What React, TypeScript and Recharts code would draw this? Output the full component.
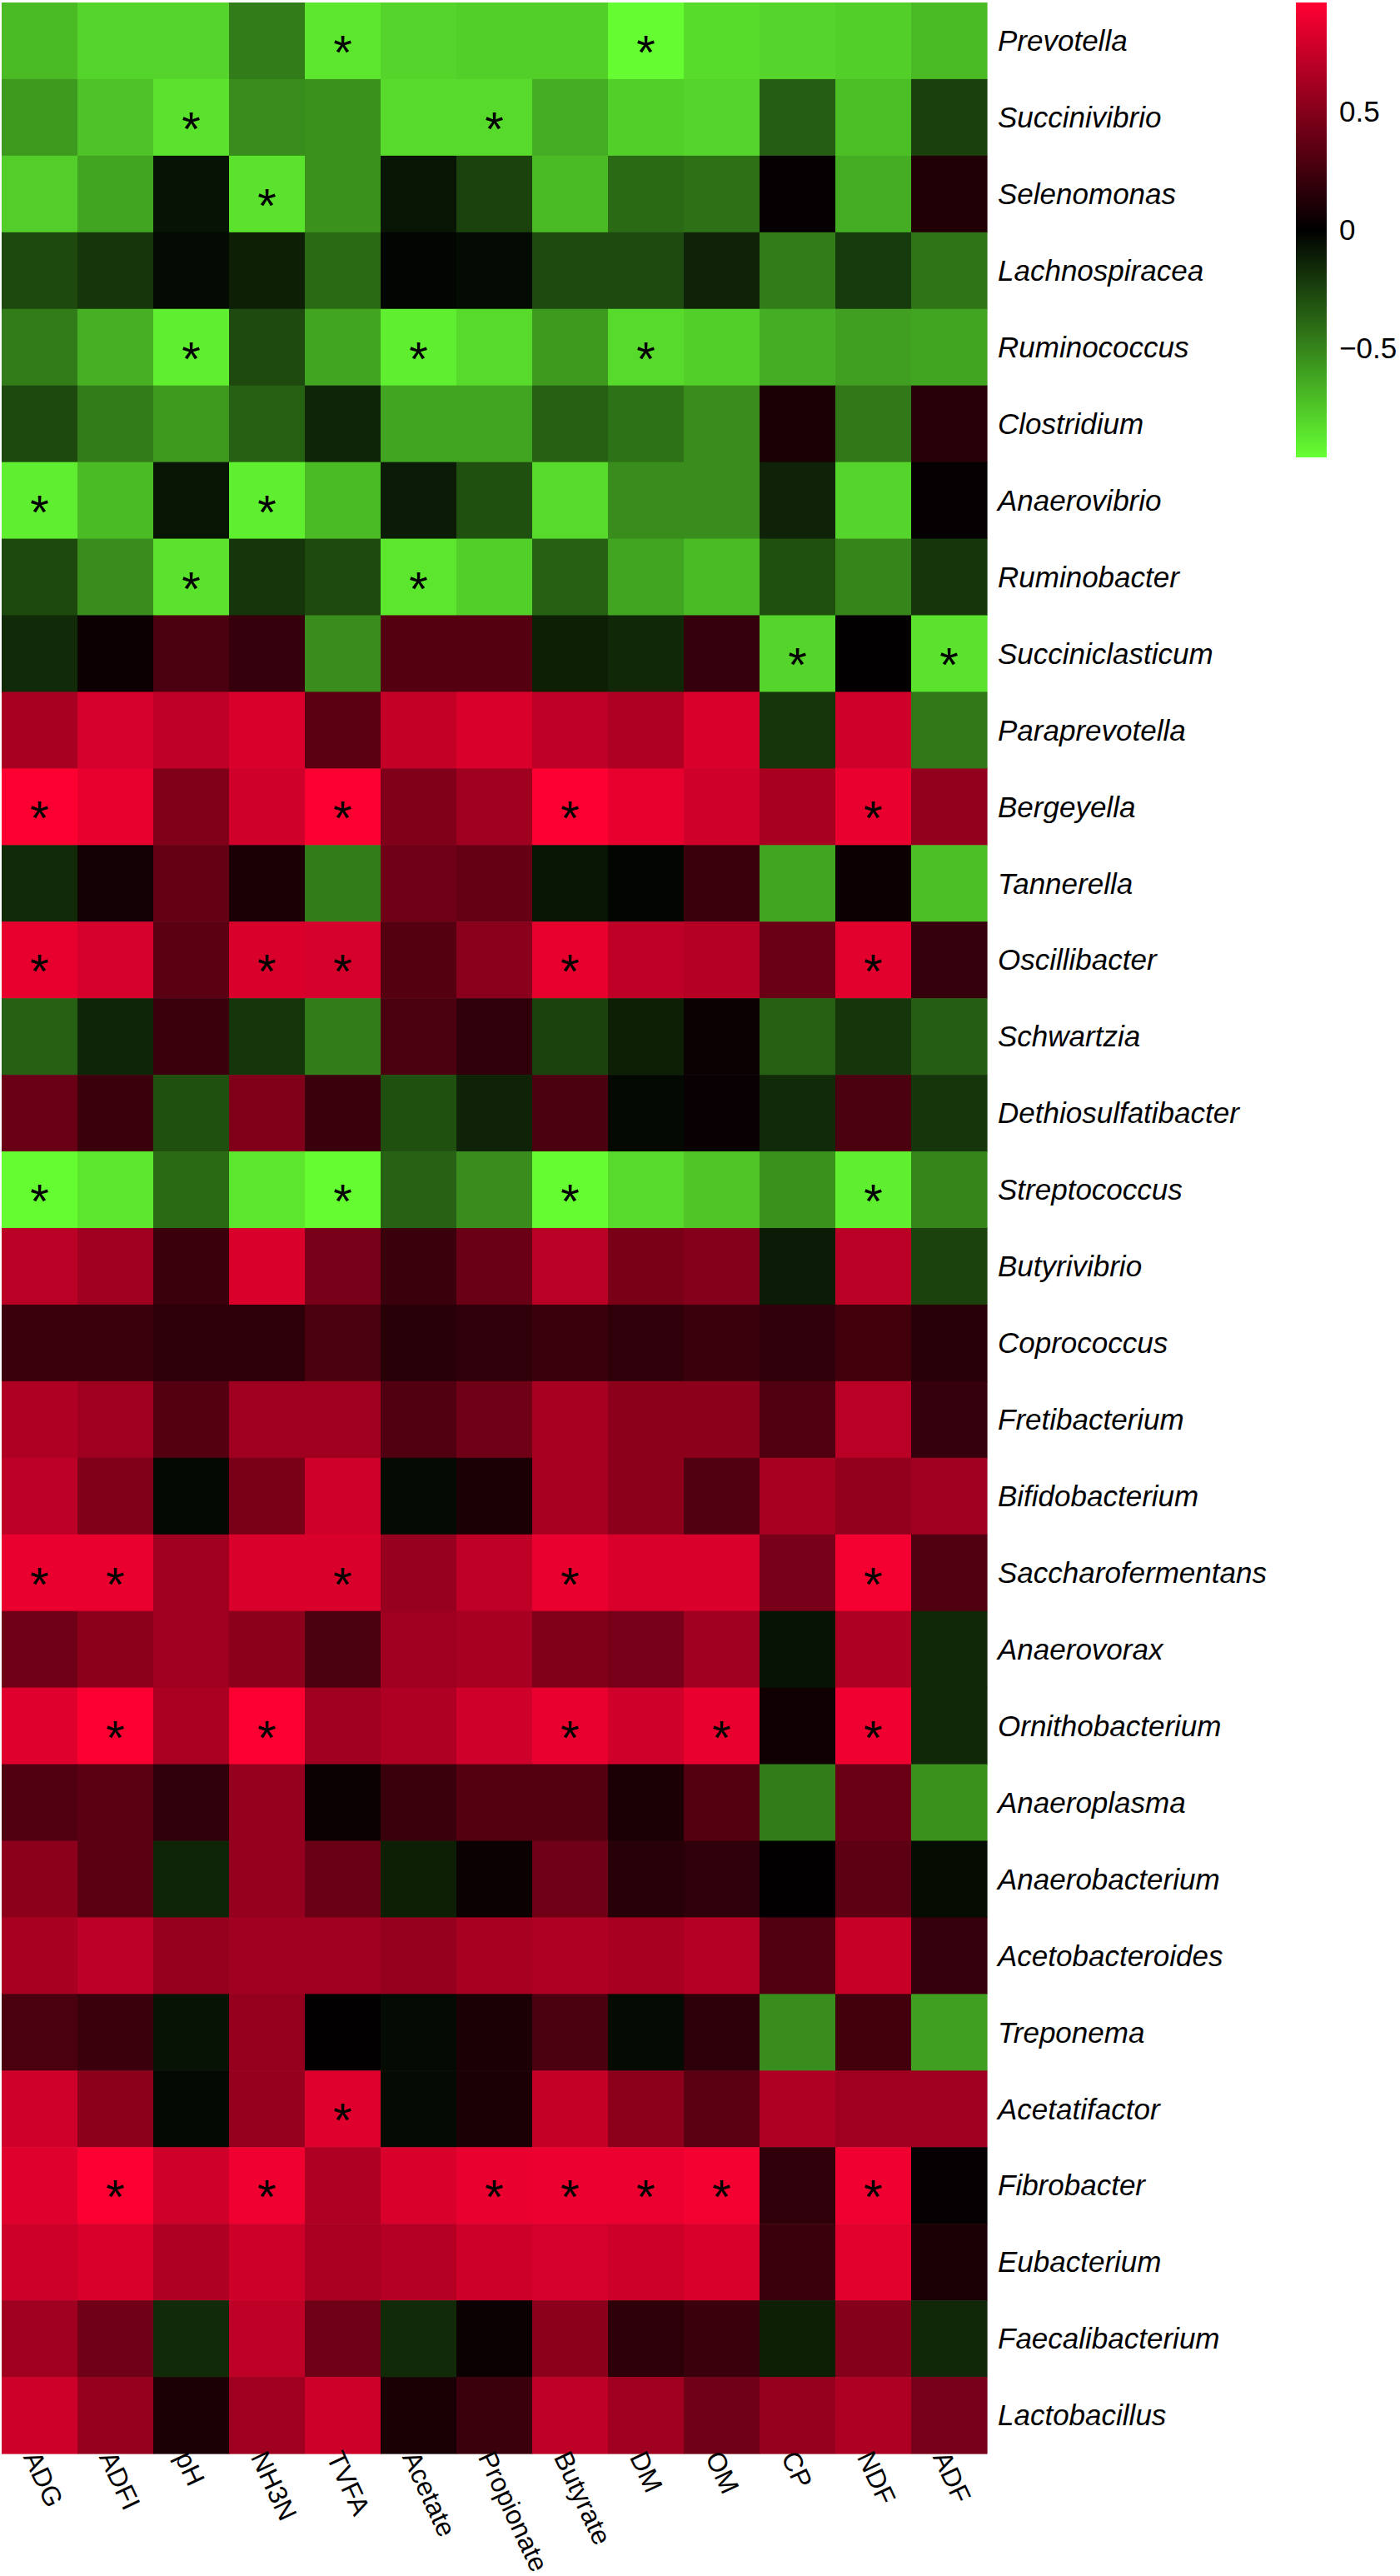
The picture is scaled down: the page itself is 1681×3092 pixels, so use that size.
import React from 'react';
import { ScatterChart, Scatter, XAxis, YAxis } from 'recharts';

const columns = ['ADG', 'ADFI', 'pH', 'NH3N', 'TVFA', 'Acetate', 'Propionate', 'Butyrate', 'DM', 'OM', 'CP', 'NDF', 'ADF'];

const genera = [
  'Prevotella', 'Succinivibrio', 'Selenomonas', 'Lachnospiracea', 'Ruminococcus', 'Clostridium',
  'Anaerovibrio', 'Ruminobacter', 'Succiniclasticum', 'Paraprevotella', 'Bergeyella', 'Tannerella',
  'Oscillibacter', 'Schwartzia', 'Dethiosulfatibacter', 'Streptococcus', 'Butyrivibrio', 'Coprococcus',
  'Fretibacterium', 'Bifidobacterium', 'Saccharofermentans', 'Anaerovorax', 'Ornithobacterium',
  'Anaeroplasma', 'Anaerobacterium', 'Acetobacteroides', 'Treponema', 'Acetatifactor', 'Fibrobacter',
  'Eubacterium', 'Faecalibacterium', 'Lactobacillus',
];

// correlation per column, rows in the order of `genera`
const ADG = [-0.7, -0.58, -0.77, -0.27, -0.47, -0.27, -0.9, -0.27, -0.16, 0.63, 0.95, -0.16, 0.87, -0.36, 0.4, -0.95, 0.7, 0.22, 0.66, 0.71, 0.88, 0.42, 0.84, 0.3, 0.53, 0.63, 0.28, 0.78, 0.84, 0.77, 0.6, 0.77];
const ADFI = [-0.8, -0.73, -0.62, -0.2, -0.66, -0.47, -0.7, -0.53, 0.05, 0.8, 0.87, 0.07, 0.8, -0.14, 0.22, -0.87, 0.6, 0.22, 0.6, 0.48, 0.88, 0.53, 0.95, 0.34, 0.34, 0.71, 0.22, 0.53, 0.95, 0.82, 0.42, 0.56];
const pH = [-0.8, -0.85, -0.07, -0.04, -0.9, -0.58, -0.08, -0.85, 0.28, 0.72, 0.48, 0.38, 0.34, 0.22, -0.3, -0.4, 0.22, 0.17, 0.32, -0.03, 0.6, 0.6, 0.64, 0.18, -0.14, 0.56, -0.07, -0.03, 0.78, 0.66, -0.16, 0.1];
const NH3N = [-0.47, -0.53, -0.85, -0.12, -0.28, -0.36, -0.9, -0.2, 0.2, 0.82, 0.78, 0.1, 0.82, -0.2, 0.48, -0.87, 0.82, 0.17, 0.6, 0.46, 0.82, 0.53, 0.95, 0.56, 0.56, 0.6, 0.56, 0.56, 0.9, 0.77, 0.72, 0.6];
const TVFA = [-0.87, -0.55, -0.55, -0.4, -0.62, -0.14, -0.7, -0.28, -0.53, 0.34, 0.95, -0.47, 0.8, -0.47, 0.22, -0.95, 0.45, 0.28, 0.6, 0.78, 0.82, 0.28, 0.6, 0.04, 0.4, 0.6, 0.01, 0.84, 0.66, 0.64, 0.42, 0.77];
const Acetate = [-0.8, -0.82, -0.08, -0.02, -0.9, -0.62, -0.1, -0.87, 0.32, 0.74, 0.48, 0.42, 0.32, 0.28, -0.3, -0.37, 0.22, 0.15, 0.3, -0.04, 0.57, 0.6, 0.66, 0.22, -0.12, 0.56, -0.04, -0.04, 0.82, 0.68, -0.16, 0.09];
const Propionate = [-0.78, -0.82, -0.25, -0.04, -0.82, -0.62, -0.3, -0.78, 0.32, 0.82, 0.6, 0.38, 0.52, 0.18, -0.13, -0.53, 0.4, 0.18, 0.42, 0.1, 0.72, 0.63, 0.78, 0.32, 0.04, 0.63, 0.1, 0.1, 0.88, 0.77, 0.04, 0.22];
const Butyrate = [-0.78, -0.65, -0.7, -0.28, -0.58, -0.36, -0.82, -0.36, -0.12, 0.72, 0.95, -0.08, 0.87, -0.25, 0.28, -0.95, 0.7, 0.22, 0.63, 0.63, 0.88, 0.48, 0.88, 0.32, 0.42, 0.66, 0.28, 0.74, 0.89, 0.8, 0.53, 0.72];
const DM = [-0.95, -0.78, -0.4, -0.28, -0.82, -0.43, -0.53, -0.62, -0.15, 0.66, 0.87, -0.02, 0.72, -0.12, -0.03, -0.82, 0.46, 0.18, 0.53, 0.53, 0.82, 0.45, 0.78, 0.1, 0.15, 0.63, -0.04, 0.53, 0.89, 0.77, 0.17, 0.6];
const OM = [-0.83, -0.8, -0.42, -0.13, -0.78, -0.53, -0.53, -0.7, 0.2, 0.82, 0.78, 0.22, 0.68, 0.04, 0.03, -0.74, 0.5, 0.22, 0.53, 0.3, 0.82, 0.6, 0.88, 0.32, 0.18, 0.68, 0.17, 0.34, 0.92, 0.82, 0.22, 0.42];
const CP = [-0.8, -0.35, 0.02, -0.47, -0.65, 0.1, -0.13, -0.3, -0.8, -0.2, 0.63, -0.62, 0.4, -0.36, -0.16, -0.55, -0.1, 0.18, 0.3, 0.63, 0.45, -0.07, 0.06, -0.47, 0.01, 0.3, -0.53, 0.66, 0.18, 0.22, -0.12, 0.56];
const NDF = [-0.78, -0.72, -0.65, -0.22, -0.6, -0.45, -0.8, -0.5, 0.01, 0.78, 0.88, 0.05, 0.85, -0.2, 0.28, -0.9, 0.7, 0.25, 0.7, 0.55, 0.92, 0.65, 0.9, 0.4, 0.35, 0.75, 0.25, 0.6, 0.9, 0.85, 0.5, 0.65];
const ADF = [-0.7, -0.24, 0.12, -0.44, -0.62, 0.15, 0.02, -0.2, -0.85, -0.45, 0.55, -0.72, 0.2, -0.35, -0.2, -0.5, -0.25, 0.15, 0.2, 0.6, 0.3, -0.15, -0.15, -0.55, -0.05, 0.2, -0.6, 0.6, 0.02, 0.1, -0.15, 0.45];

const columnValues = [ADG, ADFI, pH, NH3N, TVFA, Acetate, Propionate, Butyrate, DM, OM, CP, NDF, ADF];

// cells marked with * (genus, variable)
const significant = [
  'Prevotella|TVFA', 'Prevotella|DM',
  'Succinivibrio|pH', 'Succinivibrio|Propionate',
  'Selenomonas|NH3N',
  'Ruminococcus|pH', 'Ruminococcus|Acetate', 'Ruminococcus|DM',
  'Anaerovibrio|ADG', 'Anaerovibrio|NH3N',
  'Ruminobacter|pH', 'Ruminobacter|Acetate',
  'Succiniclasticum|CP', 'Succiniclasticum|ADF',
  'Bergeyella|ADG', 'Bergeyella|TVFA', 'Bergeyella|Butyrate', 'Bergeyella|NDF',
  'Oscillibacter|ADG', 'Oscillibacter|NH3N', 'Oscillibacter|TVFA', 'Oscillibacter|Butyrate', 'Oscillibacter|NDF',
  'Streptococcus|ADG', 'Streptococcus|TVFA', 'Streptococcus|Butyrate', 'Streptococcus|NDF',
  'Saccharofermentans|ADG', 'Saccharofermentans|ADFI', 'Saccharofermentans|TVFA', 'Saccharofermentans|Butyrate', 'Saccharofermentans|NDF',
  'Ornithobacterium|ADFI', 'Ornithobacterium|NH3N', 'Ornithobacterium|Butyrate', 'Ornithobacterium|OM', 'Ornithobacterium|NDF',
  'Acetatifactor|TVFA',
  'Fibrobacter|ADFI', 'Fibrobacter|NH3N', 'Fibrobacter|Propionate', 'Fibrobacter|Butyrate', 'Fibrobacter|DM', 'Fibrobacter|OM', 'Fibrobacter|NDF',
];

const legendTicks = [0.5, 0, -0.5];
const LIMIT = 0.96;

const W = 1681;
const H = 3092;
const MARGIN = { top: 3, right: 0, bottom: 0, left: 2 };
const Y_AXIS_W = 496;
const X_AXIS_H = 147;
const plotW = W - MARGIN.left - MARGIN.right - Y_AXIS_W;
const plotH = H - MARGIN.top - MARGIN.bottom - X_AXIS_H;
const cellW = plotW / columns.length;
const cellH = plotH / genera.length;
const FONT = '"Liberation Sans", Arial, Helvetica, sans-serif';

const cellColor = (v: number) => {
  const t = Math.min(1, Math.abs(v) / LIMIT);
  if (v >= 0) return `rgb(${Math.round(255 * t)},0,${Math.round(51 * t)})`;
  return `rgb(${Math.round(102 * t)},${Math.round(255 * t)},${Math.round(51 * t)})`;
};

const cells = genera.flatMap((g, i) =>
  columns.map((c, j) => ({
    x: j + 0.5,
    y: i + 0.5,
    v: columnValues[j][i],
    sig: significant.includes(`${g}|${c}`),
  }))
);

const Cell = (props: any) => {
  const { cx, cy, payload } = props;
  return (
    <g>
      <rect
        x={cx - cellW / 2}
        y={cy - cellH / 2}
        width={cellW + 0.6}
        height={cellH + 0.6}
        fill={cellColor(payload.v)}
      />
      {payload.sig && (
        <text x={cx} y={cy + 34} textAnchor="middle" fontSize={58} fontFamily={FONT} fill="#000">
          *
        </text>
      )}
    </g>
  );
};

const ColumnTick = (props: any) => {
  const { x, y, payload } = props;
  const tx = x - 20;
  const ty = y + 4;
  return (
    <text
      x={tx}
      y={ty}
      textAnchor="start"
      fontSize={32}
      fontFamily={FONT}
      fill="#000"
      transform={`rotate(65 ${tx} ${ty})`}
    >
      {columns[Math.floor(payload.value)]}
    </text>
  );
};

const GenusTick = (props: any) => {
  const { x, y, payload } = props;
  return (
    <text x={x} y={y} dy="0.35em" textAnchor="start" fontSize={35} fontStyle="italic" fontFamily={FONT} fill="#000">
      {genera[Math.floor(payload.value)]}
    </text>
  );
};

const BAR = { left: 1556, top: 3, width: 37, height: 546 };
const barY = (v: number) => BAR.top + ((LIMIT - v) / (2 * LIMIT)) * BAR.height;

export default function App() {
  return (
    <div style={{ position: 'relative', width: W, height: H, background: '#fff' }}>
      <style>{'body{margin:0;}'}</style>
      <ScatterChart width={W} height={H} margin={MARGIN}>
        <XAxis
          type="number"
          dataKey="x"
          domain={[0, columns.length]}
          ticks={columns.map((_, j) => j + 0.5)}
          interval={0}
          height={X_AXIS_H}
          axisLine={false}
          tickLine={false}
          tickSize={0}
          tickMargin={0}
          tick={<ColumnTick />}
        />
        <YAxis
          type="number"
          dataKey="y"
          orientation="right"
          reversed
          domain={[0, genera.length]}
          ticks={genera.map((_, i) => i + 0.5)}
          interval={0}
          width={Y_AXIS_W}
          axisLine={false}
          tickLine={false}
          tickSize={0}
          tickMargin={13}
          tick={<GenusTick />}
        />
        <Scatter data={cells} shape={<Cell />} isAnimationActive={false} />
      </ScatterChart>
      <div
        style={{
          position: 'absolute',
          left: BAR.left,
          top: BAR.top,
          width: BAR.width,
          height: BAR.height,
          background: `linear-gradient(to bottom, ${cellColor(LIMIT)}, #000 50%, ${cellColor(-LIMIT)})`,
        }}
      />
      <svg style={{ position: 'absolute', left: 0, top: 0 }} width={W} height={600}>
        {legendTicks.map((t) => (
          <text key={t} x={1608} y={barY(t)} dy="0.35em" fontSize={35} fontFamily={FONT} fill="#000">
            {t < 0 ? `\u2212${Math.abs(t)}` : `${t}`}
          </text>
        ))}
      </svg>
    </div>
  );
}
